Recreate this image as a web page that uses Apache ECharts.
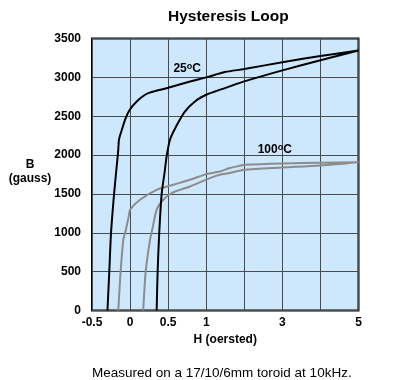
<!DOCTYPE html>
<html>
<head>
<meta charset="utf-8">
<script src="https://cdn.jsdelivr.net/npm/echarts@6/dist/echarts.min.js"></script>
<style>html,body{margin:0;padding:0;background:#fff;}#c{width:397px;height:380px;}</style>
</head>
<body>
<div id="c"></div>
<script>
// X tick labels (axis is piecewise linear: -0.5..1 step 0.5, then 1..5 step 1)
const xTickLabels = ['-0.5', '0', '0.5', '1', '', '3', '', '5'];
// 25 °C loop: H (oersted), B (gauss), from bottom-left up the left branch, then down the right branch
const loop25H = [-0.297, -0.273, -0.25, -0.21, -0.18, -0.155, -0.146, -0.11, -0.06, 0.0, 0.087, 0.173, 0.248, 0.5, 0.8, 1.0, 1.49, 2, 3, 4, 5,
                 4, 3, 2, 1.49, 1.228, 1.0, 0.852, 0.72, 0.611, 0.524, 0.48, 0.458, 0.415, 0.383, 0.362, 0.349];
const loop25B = [0, 500, 1000, 1500, 1811, 2068, 2197, 2320, 2470, 2590, 2690, 2760, 2800, 2866, 2950, 3000, 3068, 3107, 3195, 3275, 3345,
                 3220, 3090, 2948, 2862, 2818, 2776, 2690, 2560, 2380, 2197, 1982, 1811, 1500, 1000, 500, 0];
// 100 °C loop
const loop100H = [-0.155, -0.124, -0.089, -0.055, -0.02, 0.0, 0.13, 0.349, 0.567, 0.786, 1.0, 1.36, 1.62, 1.88, 2, 3, 4, 5,
                  4, 3, 2, 1.62, 1.36, 1.097, 0.786, 0.546, 0.436, 0.349, 0.291, 0.261, 0.205, 0.173];
const loop100B = [0, 500, 906, 1039, 1200, 1296, 1425, 1553, 1618, 1682, 1755, 1789, 1833, 1862, 1875, 1893, 1902, 1908,
                  1866, 1840, 1811, 1768, 1746, 1704, 1596, 1511, 1425, 1296, 1039, 906, 500, 0];
const labels = [
  { text: '25', H: 0.75, B: 3110 },
  { text: '100', H: 2.8, B: 2070 }
];

function toU(h) { return h <= 1 ? (h + 0.5) / 0.5 : 3 + (h - 1); }
function pts(hs, bs) { return hs.map((h, i) => [toU(h), bs[i]]); }

const FF = '"Liberation Sans", Arial, Helvetica, sans-serif';
const chart = echarts.init(document.getElementById('c'), null, { renderer: 'canvas' });

function tempLabel(l) {
  return {
    coord: [toU(l.H), l.B],
    symbolSize: 0,
    label: {
      show: true, position: 'inside',
      formatter: l.text + '{s|o}C',
      fontFamily: FF, fontWeight: 'bold', fontSize: 12, color: '#000',
      rich: { s: { fontFamily: FF, fontWeight: 'bold', fontSize: 9, color: '#000', padding: [0, 0, 5, 0] } }
    }
  };
}

const nameStyle = { fontFamily: FF, fontWeight: 'bold', fontSize: 12, color: '#000', lineHeight: 14, width: 42, align: 'center' };

chart.setOption({
  animation: false,
  backgroundColor: '#fff',
  title: [
    { text: 'Hysteresis Loop', left: 163, top: 4,
      textStyle: { fontFamily: FF, fontWeight: 'bold', fontSize: 15.5, color: '#000' } },
    { text: 'Measured on a 17/10/6mm toroid at 10kHz.', left: 87, top: 361,
      textStyle: { fontFamily: FF, fontWeight: 'normal', fontSize: 13.5, color: '#000' } },
    { text: '{a|B}\n{a|(gauss)}', left: 4, top: 153,
      textStyle: { fontFamily: FF, fontWeight: 'bold', fontSize: 12, color: '#000', lineHeight: 14,
                   rich: { a: nameStyle } } }
  ],
  grid: { left: 92, right: 38.5, top: 38.5, bottom: 69.5, show: true,
          backgroundColor: '#cde8fc', borderColor: '#000', borderWidth: 2 },
  xAxis: {
    type: 'value', min: 0, max: 7, interval: 1,
    name: 'H (oersted)', nameLocation: 'middle', nameGap: 23,
    nameTextStyle: { fontFamily: FF, fontWeight: 'bold', fontSize: 12, color: '#000' },
    axisLine: { show: false }, axisTick: { show: false },
    splitLine: { show: true, lineStyle: { color: '#4a4a4a', width: 1 } },
    axisLabel: { margin: 6, fontFamily: FF, fontWeight: 'bold', fontSize: 12, color: '#000',
                 formatter: v => xTickLabels[Math.round(v)] || '' }
  },
  yAxis: {
    type: 'value', min: 0, max: 3500, interval: 500,
    axisLine: { show: false }, axisTick: { show: false },
    splitLine: { show: true, lineStyle: { color: '#4a4a4a', width: 1 } },
    axisLabel: { margin: 11, fontFamily: FF, fontWeight: 'bold', fontSize: 12, color: '#000',
                 formatter: v => String(v) }
  },
  series: [
    { type: 'line', data: pts(loop100H, loop100B), showSymbol: false, symbol: 'none', smooth: 0.25,
      lineStyle: { color: '#8c8c8c', width: 2 }, z: 3,
      markPoint: { symbol: 'circle', data: [tempLabel(labels[1])] } },
    { type: 'line', data: pts(loop25H, loop25B), showSymbol: false, symbol: 'none', smooth: 0.25,
      lineStyle: { color: '#000', width: 2 }, z: 4,
      markPoint: { symbol: 'circle', data: [tempLabel(labels[0])] } }
  ]
});
</script>
</body>
</html>
